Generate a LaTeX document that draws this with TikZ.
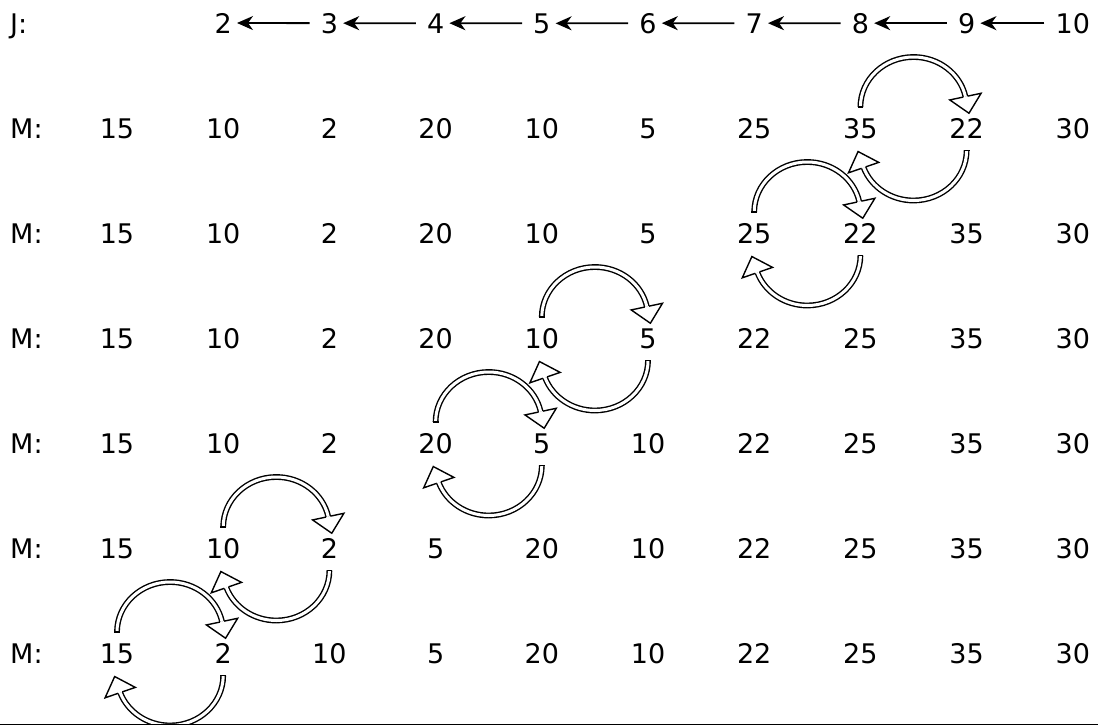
\documentclass[tikz,border=0pt]{standalone}
\usepackage{fontspec}
\setmainfont{DejaVu Sans}
\usetikzlibrary{calc,arrows.meta}
\newcommand\arrowhd[2]{%
  \begin{scope}[shift={(#1)},rotate=#2]
    \fill[white] (0,-16) -- (17,0) -- (0,16) -- cycle;
    \draw[headline] (0,-2.2) -- (0,-16) -- (17,0) -- (0,16) -- (0,2.2);
  \end{scope}}
\begin{document}
\begin{tikzpicture}[x=1pt,y=1pt,
  num/.style={font=\fontsize{27}{30}\selectfont, inner sep=0pt, anchor=base},
  lbl/.style={font=\fontsize{27}{30}\selectfont, inner sep=0pt, anchor=base west},
  jarr/.style={line width=1.8pt, -{Stealth[length=16pt,width=14pt,inset=5pt]}, shorten >=5pt, shorten <=11pt},
  dbl/.style={draw=black, line width=1.4pt, double=white, double distance=3pt},
  headline/.style={line width=1.4pt, line join=miter},
  rule/.style={line width=1.5pt}
]
\useasboundingbox (0,0) rectangle (1098,-726);
\begin{scope}
\clip (0,0) rectangle (1098,-724);
% J row
\node[lbl] (jl) at (10,-33) {J:};
\foreach \c in {2,...,10} {
  \node[num] (j\c) at ({117+106.2*(\c-1)},-33) {\c};
}
\foreach \c in {3,...,10} {
  \pgfmathtruncatemacro\p{\c-1}
  \draw[jarr] (j\c.west) -- (j\p.east);
}
% M rows
\foreach \r/\vals in {1/{15,10,2,20,10,5,25,35,22,30},
                      2/{15,10,2,20,10,5,25,22,35,30},
                      3/{15,10,2,20,10,5,22,25,35,30},
                      4/{15,10,2,20,5,10,22,25,35,30},
                      5/{15,10,2,5,20,10,22,25,35,30},
                      6/{15,2,10,5,20,10,22,25,35,30}} {
  \node[lbl] (l\r) at (10,{-(138+105*(\r-1))}) {M:};
  \foreach \v [count=\c] in \vals {
    \node[num] (m\r-\c) at ({117+106.2*(\c-1)},{-(138+105*(\r-1))}) {\v};
  }
}
% swaps
\foreach \r/\a/\b in {1/8/9, 2/7/8, 3/5/6, 4/4/5, 5/2/3, 6/1/2} {
  \coordinate (ts\r) at ($(m\r-\a.base)+(0,31)$);
  \coordinate (bs\r) at ($(m\r-\b.base)+(0,-12.5)$);
  \draw[dbl] (ts\r) arc[start angle=180,end angle=12,x radius=53.1,y radius=50] coordinate (te\r);
  \draw[headline] ($(ts\r)+(-2.9,0)$) -- ($(ts\r)+(2.9,0)$);
  \arrowhd{te\r}{-78}
  \draw[dbl] (bs\r) arc[start angle=0,end angle=-160,x radius=53.1,y radius=50] coordinate (be\r);
  \draw[headline] ($(bs\r)+(-2.9,0)$) -- ($(bs\r)+(2.9,0)$);
  \arrowhd{be\r}{109}
}
\end{scope}
\coordinate (rl) at (0,-724.5);
\coordinate (rr) at (1098,-724.5);
\draw[rule] (rl) -- (rr);
\end{tikzpicture}
\end{document}
